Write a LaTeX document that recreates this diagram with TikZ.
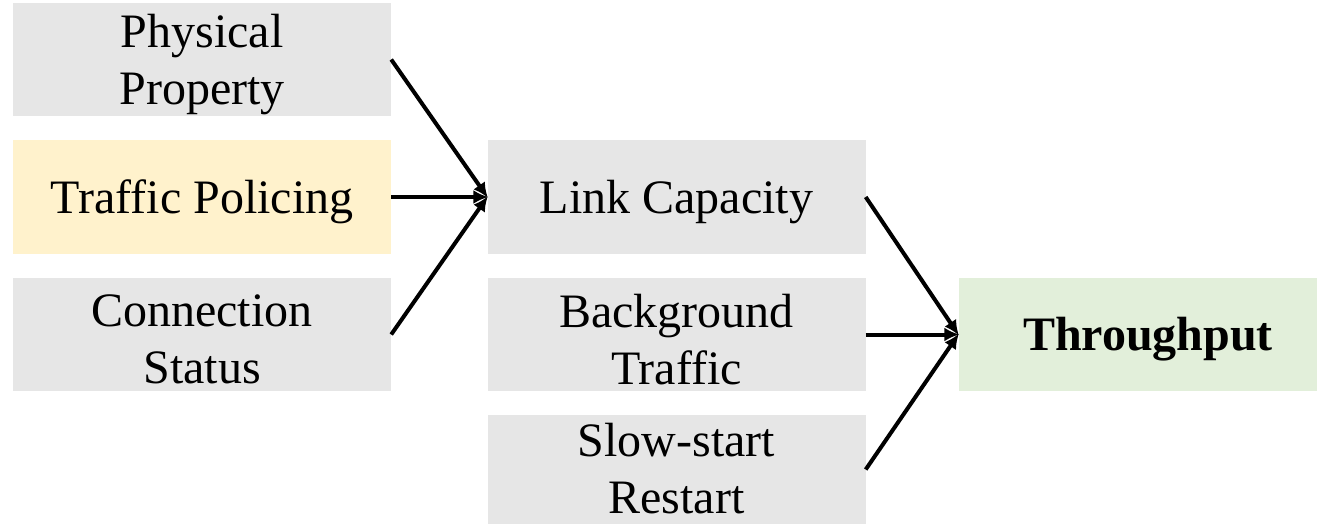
\documentclass[tikz,border=0pt]{standalone}
\usepackage{fontspec}
\setmainfont{Liberation Serif}
\usetikzlibrary{arrows.meta}
\begin{document}
\begin{tikzpicture}[x=1pt,y=-1pt,
  box/.style={fill=#1, draw=none, minimum width=378pt, minimum height=113pt,
    inner sep=0pt},
  txt/.style={align=center, inner sep=0pt, yshift=-5pt,
    font=\fontsize{48}{57}\selectfont},
  link/.style={line width=4pt, -{Latex[length=15pt,width=14pt]}, shorten >=-1pt}]
\useasboundingbox (0,0) rectangle (1317,524);
\definecolor{greybox}{HTML}{E6E6E6}
\definecolor{yellowbox}{HTML}{FFF2CC}
\definecolor{greenbox}{HTML}{E2EFDA}
% first column: causes
\node[box=greybox, label={[txt]center:Physical\\Property}] (phys) at (202,59.5) {};
\node[box=yellowbox, label={[txt]center:Traffic Policing}] (police) at (202,197) {};
\node[box=greybox, label={[txt]center:Connection\\Status}] (conn) at (202,334.5) {};
% second column: factors
\node[box=greybox, label={[txt]center:Link Capacity}] (cap) at (676.5,197) {};
\node[box=greybox, label={[txt]center:Background\\Traffic}] (bg) at (676.5,334.5) {};
\node[box=greybox, minimum height=110pt, label={[txt, yshift=6pt]center:Slow-start\\Restart}] (ssr) at (676.5,469.5) {};
% outcome
\node[box=greenbox, minimum width=359pt,
  label={[txt, xshift=10pt, font=\fontsize{48}{57}\selectfont\bfseries]center:Throughput}] (tp) at (1138,334.5) {};
% connectors
\draw[link] (phys.east) -- (cap.west);
\draw[link] (police.east) -- (cap.west);
\draw[link] (conn.east) -- (cap.west);
\draw[link] (cap.east) -- (tp.west);
\draw[link] (bg.east) -- (tp.west);
\draw[link] (ssr.east) -- (tp.west);
\end{tikzpicture}
\end{document}
